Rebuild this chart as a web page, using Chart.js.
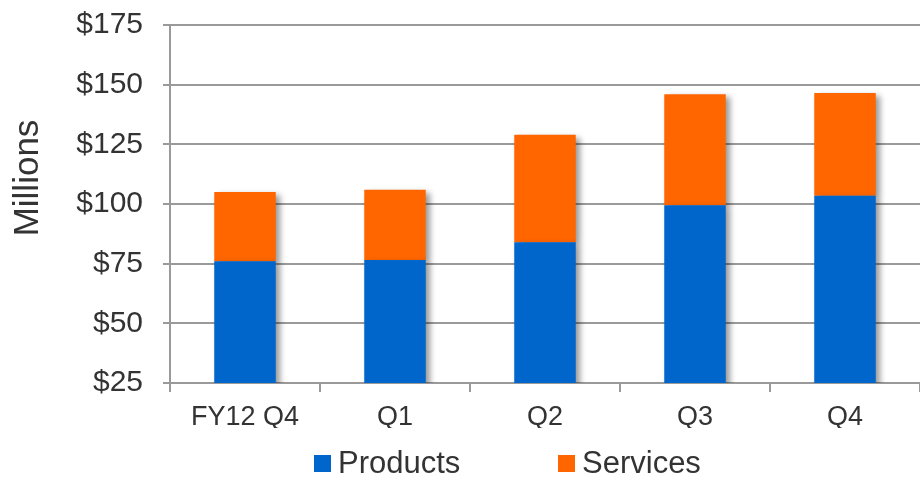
<!DOCTYPE html>
<html>
<head>
<meta charset="utf-8">
<script src="https://cdn.jsdelivr.net/npm/chart.js@4.4.1/dist/chart.umd.min.js"></script>
<style>
  html, body { margin: 0; padding: 0; background: #fff; }
  #wrap { width: 920px; height: 478px; position: relative; }
</style>
</head>
<body>
<div id="wrap"><canvas id="chart"></canvas></div>
<script>
// 季度與營收資料（單位：百萬美元）
const quarters = ['FY12 Q4', 'Q1', 'Q2', 'Q3', 'Q4'];
const products = [76, 76.5, 84, 99.5, 103.5];
const services = [29, 29.5, 45, 46.5, 43];
const yTicks = [25, 50, 75, 100, 125, 150, 175];

const FONT = 'Liberation Sans, Arial, sans-serif';
const TEXT = '#333';

// 長條陰影
const barShadow = {
  id: 'barShadow',
  beforeDatasetsDraw(chart) {
    const ctx = chart.ctx;
    ctx.save();
    ctx.shadowColor = 'rgba(0,0,0,0.4)';
    ctx.shadowBlur = 6;
    ctx.shadowOffsetX = 4;
    ctx.shadowOffsetY = 3;
  },
  afterDatasetsDraw(chart) {
    chart.ctx.restore();
  }
};

// Y 軸標題與底部圖例（自行繪製，間距較寬）
const extras = {
  id: 'extras',
  afterDraw(chart) {
    const ctx = chart.ctx;
    ctx.save();
    ctx.fillStyle = TEXT;
    ctx.font = '35px ' + FONT;
    ctx.textAlign = 'center';
    ctx.textBaseline = 'middle';
    ctx.translate(28, 178);
    ctx.rotate(-Math.PI / 2);
    ctx.fillText('Millions', 0, 0);
    ctx.restore();

    ctx.save();
    ctx.font = '31px ' + FONT;
    ctx.textBaseline = 'middle';
    const items = chart.data.datasets.map(ds => ({ text: ds.label, color: ds.backgroundColor }));
    const starts = [314, 558];
    items.forEach((it, i) => {
      ctx.fillStyle = it.color;
      ctx.fillRect(starts[i], 455, 17, 17);
      ctx.fillStyle = TEXT;
      ctx.fillText(it.text, starts[i] + 24, 464);
    });
    ctx.restore();
  }
};

const ctx = document.getElementById('chart').getContext('2d');
new Chart(ctx, {
  type: 'bar',
  data: {
    labels: quarters,
    datasets: [
      { label: 'Products', data: products, backgroundColor: '#0066CC', barPercentage: 0.41, categoryPercentage: 1 },
      { label: 'Services', data: services, backgroundColor: '#FF6600', barPercentage: 0.41, categoryPercentage: 1 }
    ]
  },
  options: {
    responsive: true,
    maintainAspectRatio: false,
    animation: false,
    layout: { padding: { top: 0, right: 0, left: 0, bottom: 50 } },
    plugins: {
      legend: { display: false },
      tooltip: { enabled: false }
    },
    scales: {
      x: {
        stacked: true,
        afterFit(axis) { axis.height = 45; },
        grid: { drawOnChartArea: false, drawTicks: true, tickLength: 9, color: '#9a9a9a', lineWidth: 2 },
        border: { display: false },
        ticks: { font: { family: FONT, size: 27 }, color: TEXT, padding: 9 }
      },
      y: {
        stacked: true,
        min: 25,
        max: 175,
        afterFit(axis) { axis.width = 170; axis.paddingTop = 25; axis.paddingBottom = 0; },
        afterBuildTicks(axis) { axis.ticks = yTicks.map(v => ({ value: v })); },
        grid: { color: '#9a9a9a', lineWidth: 2, tickLength: 7 },
        border: { display: true, color: '#9a9a9a', width: 2 },
        ticks: {
          font: { family: FONT, size: 30 },
          color: TEXT,
          padding: 20,
          callback: v => '$' + v
        }
      }
    }
  },
  plugins: [barShadow, extras]
});
</script>
</body>
</html>
